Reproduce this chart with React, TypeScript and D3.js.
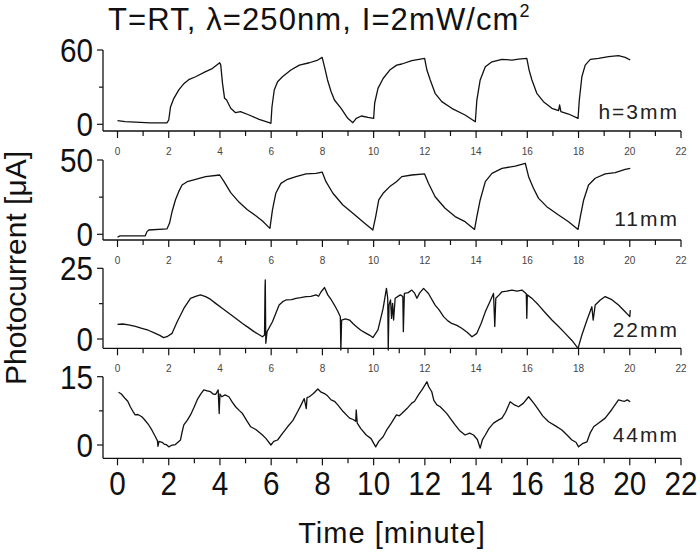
import React from 'react';
import * as d3 from 'd3';

type Pt = [number, number];

const timeTicks = [0, 2, 4, 6, 8, 10, 12, 14, 16, 18, 20, 22];
const minorTimeTicks = [1, 3, 5, 7, 9, 11, 13, 15, 17, 19, 21];
const panelNames = ['h=3mm', '11mm', '22mm', '44mm'];
const panelMax = [60, 50, 25, 15];

const current3mm: Pt[] = [
  [0, 3], [0.3, 2.2], [1.28, 1.1], [1.93, 1.1], [2.0, 3.5], [2.07, 14], [2.2, 21], [2.4, 28], [2.6, 33],
  [2.78, 36], [3.05, 38.4], [3.44, 42.5], [3.7, 45], [3.99, 49.7], [4.03, 48], [4.1, 33], [4.18, 21],
  [4.26, 19.6], [4.42, 13], [4.61, 9.4], [4.8, 10.2], [5.14, 7.5], [5.53, 4], [5.92, 1.3], [5.99, 0.8],
  [6.03, 14], [6.12, 27.7], [6.25, 34.4], [6.44, 38.4], [6.77, 43.8], [7.1, 47.8], [7.49, 49.7],
  [7.82, 51.9], [7.99, 54], [8.08, 46.5], [8.2, 35.8], [8.34, 26.3], [8.47, 19.6], [8.73, 12.9],
  [8.99, 4.8], [9.19, 1.3], [9.32, 4.8], [9.52, 6.7], [9.78, 5.6], [10.0, 4.8], [10.04, 17], [10.17, 29],
  [10.37, 37], [10.63, 43.8], [10.9, 47.8], [11.1, 48.7], [11.49, 51.4], [11.99, 53.3], [12.08, 43.8],
  [12.21, 35.8], [12.4, 25], [12.66, 18.3], [13.05, 12.9], [13.57, 7.5], [13.97, 2.1], [14.03, 19.6],
  [14.16, 35.8], [14.36, 46.5], [14.62, 50.5], [15.01, 52.4], [15.4, 51.9], [15.66, 52.6], [15.98, 53.3],
  [16.07, 43.8], [16.18, 35.8], [16.37, 25], [16.63, 18.3], [16.96, 12.9], [17.22, 11], [17.26, 15.6],
  [17.31, 10.2], [17.61, 8.3], [17.98, 4.8], [18.03, 19.6], [18.13, 38.4], [18.26, 47.8], [18.46, 52.4],
  [18.78, 53.3], [19.17, 54.6], [19.56, 55.4], [19.82, 54.1], [20.02, 51.9],
];

const current11mm: Pt[] = [
  [0, -2], [0.1, -1.1], [0.43, -1.1], [1.08, -1.1], [1.15, 1.8], [1.22, 2.9], [1.93, 3.6], [2.03, 7.4],
  [2.13, 15.2], [2.26, 23.1], [2.39, 28.7], [2.52, 33.2], [2.72, 35.4], [3.05, 37], [3.44, 38.8],
  [3.99, 39.9], [4.16, 35.4], [4.42, 28], [4.75, 21.5], [5.07, 16.5], [5.4, 12.5], [5.66, 9], [5.95, 4],
  [6.05, 16.4], [6.18, 27.6], [6.38, 34.3], [6.64, 37], [6.97, 38.8], [7.36, 40.6], [7.75, 41],
  [7.99, 41.9], [8.14, 35.4], [8.41, 27.6], [8.8, 19.7], [9.19, 14.1], [9.58, 8.5], [9.97, 2.9],
  [10.08, 11.9], [10.2, 23.1], [10.37, 27.6], [10.63, 32.1], [10.89, 35.4], [11.1, 38.8], [11.49, 39.9],
  [11.99, 40.6], [12.14, 34.3], [12.4, 25.3], [12.79, 17.5], [13.18, 11.9], [13.57, 8.5], [13.94, 3.3],
  [14.03, 11.9], [14.16, 23.1], [14.36, 35.4], [14.62, 41], [15.01, 44.4], [15.53, 45.9], [15.92, 47.8],
  [16.05, 38.8], [16.24, 31], [16.44, 24.2], [16.76, 18.6], [17.22, 13], [17.61, 8.5], [17.98, 3.3],
  [18.07, 11.9], [18.2, 23.1], [18.39, 33.2], [18.65, 37.7], [19.04, 40.6], [19.43, 41.5], [19.82, 43.7],
  [20.02, 44.4],
];

const current22mm: Pt[] = [
  [0, 5.2], [0.2, 5.3], [0.43, 5], [0.7, 4.5], [0.95, 3.8], [1.2, 3.1], [1.48, 2], [1.65, 1.3], [1.8, 0.5],
  [1.93, 0.8], [2.13, 2], [2.33, 6.1], [2.59, 10.8], [2.85, 14.4], [3.05, 15.1], [3.24, 15.6], [3.44, 15],
  [3.6, 14.2], [3.83, 12.6], [4.1, 10.8], [4.35, 9.1], [4.6, 7.4], [4.88, 5.5], [5.1, 4.1], [5.33, 2.6],
  [5.5, 1.7], [5.66, 0.8], [5.74, 1.4], [5.76, 18], [5.77, 20.9], [5.79, -1.5], [5.84, 2.6], [6.05, 6.1],
  [6.31, 12], [6.45, 13.2], [6.58, 13.8], [6.8, 13.9], [6.97, 14.4], [7.15, 14.6], [7.36, 15], [7.55, 15.1],
  [7.75, 15.6], [7.85, 15.1], [7.95, 16.7], [8.08, 18.2], [8.21, 15.6], [8.35, 13.8], [8.47, 12],
  [8.6, 9.8], [8.7, 7.9], [8.72, -3.9], [8.75, 6.7], [8.9, 7.1], [9.06, 6.7], [9.2, 5.4], [9.32, 4.4],
  [9.5, 3.1], [9.71, 2], [9.85, 1.3], [9.97, 0.5], [10.17, 3.2], [10.37, 10.8], [10.5, 17.9], [10.55, 14.4],
  [10.57, -3.9], [10.6, 12], [10.66, 13.8], [10.7, 7.3], [10.74, 12.6], [10.78, 6.7], [10.84, 14.4],
  [11.04, 15.6], [11.14, 15], [11.16, 2.6], [11.2, 16.1], [11.35, 16.4], [11.49, 17.3], [11.6, 16.2],
  [11.69, 14.4], [11.8, 16.3], [11.95, 17.9], [12.14, 16.1], [12.4, 12], [12.55, 10.4], [12.73, 7.9],
  [12.9, 6.4], [13.05, 5.5], [13.25, 4.8], [13.44, 3.8], [13.65, 2.4], [13.84, 0.8], [14.03, 2],
  [14.2, 5.6], [14.36, 9.6], [14.52, 12.8], [14.68, 16.1], [14.73, 4.4], [14.77, 14.4], [14.9, 15.6],
  [15.01, 16.7], [15.2, 16.9], [15.4, 17.3], [15.6, 16.9], [15.79, 17.3], [15.96, 16], [15.98, 7.3],
  [16.0, 15.6], [16.2, 14.2], [16.44, 12], [16.7, 9.3], [16.96, 6.7], [17.2, 4.6], [17.48, 2],
  [17.75, -0.6], [17.98, -3.3], [18.13, 1.4], [18.33, 6.7], [18.52, 11.4], [18.57, 6.7], [18.65, 12],
  [18.85, 13.8], [19.04, 15], [19.3, 13.9], [19.56, 12], [19.8, 9.8], [20.0, 7.9], [20.02, 10.2],
];

const current44mm: Pt[] = [
  [0.04, 11.6], [0.15, 11.2], [0.3, 10.2], [0.4, 9.6], [0.5, 8.4], [0.6, 7.4], [0.69, 6.6], [0.8, 6.7],
  [0.95, 6.2], [1.05, 5.6], [1.22, 4.4], [1.35, 3.2], [1.48, 1.8], [1.56, 0.9], [1.58, -0.3], [1.62, 0.8],
  [1.74, 0.6], [1.82, 0.2], [1.9, 0.1], [2.0, -0.4], [2.1, -0.1], [2.26, 0.1], [2.36, 0.6], [2.46, 1.1],
  [2.52, 2.8], [2.59, 4.4], [2.72, 5.4], [2.85, 6.6], [2.98, 8.2], [3.11, 9.9], [3.24, 11.1], [3.37, 12.1],
  [3.5, 11.9], [3.63, 11.7], [3.73, 11.2], [3.83, 11.1], [3.93, 12.1], [3.97, 6.9], [4.0, 11.2],
  [4.07, 10.6], [4.2, 11], [4.35, 10.6], [4.48, 9.4], [4.61, 8.4], [4.75, 7.6], [4.88, 6.9], [5.04, 5.4],
  [5.2, 4], [5.4, 3.4], [5.66, 2.2], [5.8, 1.4], [5.99, 0], [6.1, 0.8], [6.25, 1.1], [6.45, 2.6],
  [6.64, 4], [6.85, 5.4], [7.03, 7.3], [7.15, 8.6], [7.29, 10.2], [7.37, 8], [7.4, 10.4], [7.49, 10.6],
  [7.65, 11.3], [7.82, 12.3], [7.95, 11.6], [8.08, 11.3], [8.2, 10.8], [8.34, 9.9], [8.47, 9.6],
  [8.6, 8.8], [8.8, 7.4], [9.06, 5.9], [9.2, 5.6], [9.3, 5.2], [9.32, 7.7], [9.36, 4.8], [9.5, 3.6],
  [9.71, 2.2], [9.9, 1.4], [10.08, -0.4], [10.2, 0.8], [10.37, 1.8], [10.5, 3.2], [10.69, 4.8],
  [10.89, 6.6], [11.0, 6.4], [11.1, 6.9], [11.3, 8], [11.49, 9.2], [11.6, 9.6], [11.75, 11], [11.9, 12.2],
  [12.08, 13.9], [12.15, 12.8], [12.27, 11.7], [12.35, 9.8], [12.47, 8.8], [12.6, 8.4], [12.86, 6.9],
  [13.0, 5.8], [13.18, 4.4], [13.35, 3.2], [13.57, 2.2], [13.75, 2.6], [13.9, 2.2], [14.05, 1.2],
  [14.16, -0.7], [14.25, 1.2], [14.36, 2.2], [14.5, 3.6], [14.68, 4.8], [14.85, 5.4], [15.01, 5.9],
  [15.15, 7.2], [15.33, 9.5], [15.5, 8.8], [15.66, 8.4], [15.85, 9.2], [16.05, 10.6], [16.25, 9.2],
  [16.44, 7.7], [16.6, 6.4], [16.83, 5.1], [17.1, 4.2], [17.35, 3.3], [17.55, 2.2], [17.74, 1.1],
  [17.9, 0.6], [18.0, -0.4], [18.15, 0.3], [18.33, 0.7], [18.45, 2.6], [18.59, 4], [18.8, 4.9],
  [19.04, 5.9], [19.3, 7.8], [19.56, 9.9], [19.7, 9.7], [19.8, 9.6], [19.9, 9.9], [20.02, 9.5],
];

const seriesList = [current3mm, current11mm, current22mm, current44mm];

const FONT = 'Liberation Sans, Arial, sans-serif';

// panel geometry: zero line, top value line, x-axis line
const panelGeom = [
  { zeroY: 124.3, topY: 50, axisY: 131, labelY: 119 },
  { zeroY: 234.3, topY: 160, axisY: 240, labelY: 226 },
  { zeroY: 339, topY: 268.3, axisY: 348.3, labelY: 337 },
  { zeroY: 445, topY: 376.7, axisY: 458.3, labelY: 442 },
];

export default function App() {
  const x = d3.scaleLinear().domain([0, 22]).range([117.5, 681]);
  const axisLeft = 103;
  return (
    <svg width={700} height={559} style={{ display: 'block', position: 'absolute', left: 0, top: 0, background: '#fff' }}>
      <rect x={0} y={0} width={700} height={559} fill="#fff" />
      <text x={108} y={30} fontFamily={FONT} fontSize={31} letterSpacing={1.1} fill="#111">
        T=RT, λ=250nm, I=2mW/cm<tspan dy={-13} fontSize={18}>2</tspan>
      </text>
      {panelGeom.map((g, i) => {
        const y = d3.scaleLinear().domain([0, panelMax[i]]).range([g.zeroY, g.topY]);
        const line = d3.line<Pt>().x(d => x(d[0])).y(d => y(d[1]));
        const big = i === 3;
        return (
          <g key={i}>
            <path d={line(seriesList[i]) || ''} fill="none" stroke="#111" strokeWidth={1.3} strokeLinejoin="round" />
            <line x1={axisLeft} x2={axisLeft} y1={g.topY} y2={g.axisY} stroke="#111" strokeWidth={1.3} />
            <line x1={axisLeft} x2={x(22)} y1={g.axisY} y2={g.axisY} stroke="#111" strokeWidth={1.3} />
            {[0, panelMax[i]].map(v => (
              <g key={v}>
                <line x1={axisLeft - 6} x2={axisLeft} y1={y(v)} y2={y(v)} stroke="#111" strokeWidth={1.2} />
                <text transform={`translate(93,${y(v) + 12}) scale(0.9,1)`} textAnchor="end" fontFamily={FONT} fontSize={33} fill="#111">{v}</text>
              </g>
            ))}
            <line x1={axisLeft - 4} x2={axisLeft} y1={y(panelMax[i] / 2)} y2={y(panelMax[i] / 2)} stroke="#111" strokeWidth={1.2} />
            {timeTicks.map(t => (
              <g key={t}>
                <line x1={x(t)} x2={x(t)} y1={g.axisY} y2={g.axisY + 7} stroke="#111" strokeWidth={1.2} />
                {big ? (
                  <text transform={`translate(${x(t)},${g.axisY + 37}) scale(0.9,1)`} textAnchor="middle" fontFamily={FONT} fontSize={33} fill="#111">{t}</text>
                ) : (
                  <text x={x(t)} y={g.axisY + 24} textAnchor="middle" fontFamily={FONT} fontSize={10} fill="#444">{t}</text>
                )}
              </g>
            ))}
            {minorTimeTicks.map(t => (
              <line key={t} x1={x(t)} x2={x(t)} y1={g.axisY} y2={g.axisY + 5} stroke="#111" strokeWidth={1.2} />
            ))}
            <text x={679} y={g.labelY} textAnchor="end" fontFamily={FONT} fontSize={21} letterSpacing={2} fill="#222">{panelNames[i]}</text>
          </g>
        );
      })}
      <text transform="translate(26,268) rotate(-90)" textAnchor="middle" fontFamily={FONT} fontSize={30} fill="#111">Photocurrent [μA]</text>
      <text x={392} y={543} textAnchor="middle" fontFamily={FONT} fontSize={29} letterSpacing={1} fill="#111">Time [minute]</text>
    </svg>
  );
}
